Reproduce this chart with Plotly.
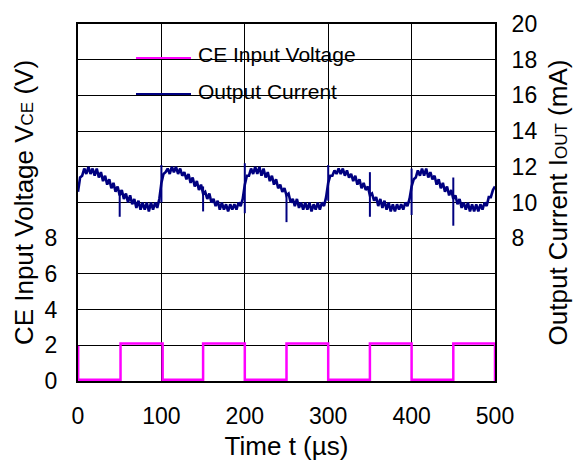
import plotly.graph_objects as go

# ---------------- data ----------------
# CE input voltage (square wave), step-wise (hv)
v_time_us = [0, 0.2, 51, 101.5, 150, 200, 250, 300, 350, 400, 450, 500]
v_ce_volt = [1.9, 0.07, 2.1, 0.07, 2.1, 0.07, 2.1, 0.07, 2.1, 0.07, 2.1, 0.0]

i_step_us = 2.5
i_out_ma = [
    # 0 - 97.5
    10.6, 11.4, 11.5, 11.9, 11.6, 12.0, 11.6, 11.9, 11.5, 11.9,
    11.4, 11.7, 11.2, 11.5, 11.0, 11.3, 10.8, 11.1, 10.6, 10.9,
    10.4, 10.7, 10.2, 10.5, 10.0, 10.4, 9.9, 10.2, 9.7, 10.1,
    9.6, 10.0, 9.6, 10.0, 9.5, 10.0, 9.6, 10.0, 9.7, 10.2,
    # 100 - 197.5
    11.1, 11.6, 11.7, 11.9, 11.6, 12.0, 11.7, 12.0, 11.6, 11.9,
    11.5, 11.7, 11.3, 11.6, 11.1, 11.4, 10.9, 11.2, 10.7, 11.0,
    10.5, 10.6, 10.2, 10.5, 10.0, 10.2, 9.8, 10.1, 9.6, 10.0,
    9.6, 9.9, 9.5, 9.9, 9.6, 9.9, 9.6, 10.0, 9.8, 10.2,
    # 200 - 297.5
    11.0, 11.5, 11.5, 11.9, 11.6, 12.0, 11.6, 12.0, 11.5, 11.9,
    11.4, 11.7, 11.2, 11.5, 11.0, 11.3, 10.8, 11.0, 10.6, 10.8,
    10.4, 10.5, 10.0, 10.2, 9.8, 10.2, 9.7, 10.0, 9.6, 10.0,
    9.6, 10.0, 9.5, 9.9, 9.6, 10.0, 9.6, 10.0, 9.8, 10.3,
    # 300 - 397.5
    11.1, 11.5, 11.5, 11.8, 11.6, 11.9, 11.6, 11.9, 11.5, 11.8,
    11.4, 11.6, 11.2, 11.5, 11.0, 11.3, 10.8, 11.1, 10.7, 10.9,
    10.4, 10.5, 10.1, 10.3, 9.8, 10.2, 9.7, 10.1, 9.6, 10.0,
    9.5, 9.9, 9.5, 9.9, 9.6, 9.9, 9.6, 10.0, 9.8, 10.2,
    # 400 - 500
    10.9, 11.3, 11.4, 11.8, 11.5, 11.9, 11.5, 11.9, 11.4, 11.7,
    11.3, 11.5, 11.0, 11.3, 10.8, 11.1, 10.6, 10.9, 10.4, 10.7,
    10.2, 10.4, 9.9, 10.2, 9.7, 10.0, 9.6, 10.0, 9.5, 9.9,
    9.5, 9.9, 9.5, 9.9, 9.6, 10.0, 9.8, 10.3, 10.3, 10.7,
    10.9,
]
i_time_us = [k * i_step_us for k in range(len(i_out_ma))]

# switching spikes on the current waveform
spike_time_us = [50, 100, 150, 200, 250, 300, 350, 400, 450]
spike_low_ma = [9.2, 10.0, 9.5, 9.4, 8.9, 10.1, 9.2, 9.3, 8.7]
spike_high_ma = [10.7, 12.1, 10.9, 12.2, 10.5, 12.1, 11.7, 11.9, 11.4]

x_ticks = [0, 100, 200, 300, 400, 500]
y_grid = [0, 2, 4, 6, 8, 10, 12, 14, 16, 18, 20]
y_left_labels = ["0", "2", "4", "6", "8", "", "", "", "", "", ""]
y_right_labels = ["", "", "", "", "8", "10", "12", "14", "16", "18", "20"]

legend_names = ["CE Input Voltage", "Output Current"]

# ---------------- style ----------------
FONT = "Liberation Sans, Arial, sans-serif"
MAGENTA = "#FF00FF"
NAVY = "#000080"

fig = go.Figure()

fig.add_trace(go.Scatter(
    x=v_time_us, y=v_ce_volt, mode="lines", line=dict(color=MAGENTA, width=2.5, shape="hv"),
    name=legend_names[0], showlegend=False, yaxis="y", hoverinfo="skip"))

sx, sy = [], []
for t, lo, hi in zip(spike_time_us, spike_low_ma, spike_high_ma):
    sx += [t, t, None]
    sy += [lo, hi, None]

fig.add_trace(go.Scatter(
    x=i_time_us, y=i_out_ma, mode="lines", line=dict(color=NAVY, width=2.6),
    name=legend_names[1], showlegend=False, yaxis="y2", hoverinfo="skip"))
fig.add_trace(go.Scatter(
    x=sx, y=sy, mode="lines", line=dict(color=NAVY, width=2),
    showlegend=False, yaxis="y2", hoverinfo="skip"))

# ---------------- layout ----------------
L, R, T, B = 78, 80, 24, 81
W, H = 575, 462
pw, ph = W - L - R, H - T - B

def px2paper(xp, yp):
    return (xp - L) / pw, (H - B - yp) / ph

shapes = []
# white legend background (covers grid lines)
x0, y0 = px2paper(118, 39)
x1, y1 = px2paper(360, 77)
shapes.append(dict(type="rect", xref="paper", yref="paper", x0=x0, y0=y1, x1=x1, y1=y0,
                   fillcolor="white", line=dict(width=0), layer="between"))
x0, y0 = px2paper(118, 77)
x1, y1 = px2paper(353, 113)
shapes.append(dict(type="rect", xref="paper", yref="paper", x0=x0, y0=y1, x1=x1, y1=y0,
                   fillcolor="white", line=dict(width=0), layer="between"))

annotations = []
for name, col, ypx_line, ypx_text in [(legend_names[0], MAGENTA, 58, 54.5),
                                      (legend_names[1], NAVY, 94, 91)]:
    lx0, ly = px2paper(136, ypx_line)
    lx1, _ = px2paper(191, ypx_line)
    shapes.append(dict(type="line", xref="paper", yref="paper", x0=lx0, x1=lx1, y0=ly, y1=ly,
                       line=dict(color=col, width=2), layer="above"))
    tx, ty = px2paper(196, ypx_text)
    annotations.append(dict(xref="paper", yref="paper", x=tx, y=ty, xanchor="left", yanchor="middle",
                            text=name, showarrow=False, font=dict(family=FONT, size=21, color="black")))

axis_common = dict(showline=True, linecolor="black", linewidth=2, zeroline=False, ticks="",
                   tickfont=dict(family=FONT, size=23, color="black"))

fig.update_layout(
    width=W, height=H,
    margin=dict(l=L, r=R, t=T, b=B, autoexpand=False),
    paper_bgcolor="white", plot_bgcolor="white",
    font=dict(family=FONT, color="black"),
    showlegend=False,
    xaxis=dict(range=[0, 500], tickvals=x_ticks, showgrid=True, gridcolor="#000", gridwidth=1,
               mirror=True, ticklabelstandoff=13,
               title=dict(text="Time t (µs)", font=dict(family=FONT, size=26), standoff=9),
               **axis_common),
    yaxis=dict(range=[0, 20], tickvals=y_grid, ticktext=y_left_labels, showgrid=True, gridcolor="#000",
               gridwidth=1, mirror=True, ticklabelstandoff=14,
               title=dict(text='CE Input Voltage V<span style="font-size:17px">CE</span> (V)',
                          font=dict(family=FONT, size=26), standoff=4),
               **axis_common),
    yaxis2=dict(range=[0, 20], tickvals=y_grid, ticktext=y_right_labels, overlaying="y", side="right",
                showgrid=False, ticklabelstandoff=10,
                title=dict(text='Output Current I<span style="font-size:17px">OUT</span> (mA)',
                           font=dict(family=FONT, size=26), standoff=12),
                **axis_common),
    shapes=shapes, annotations=annotations,
)

fig.write_html("out.html")
